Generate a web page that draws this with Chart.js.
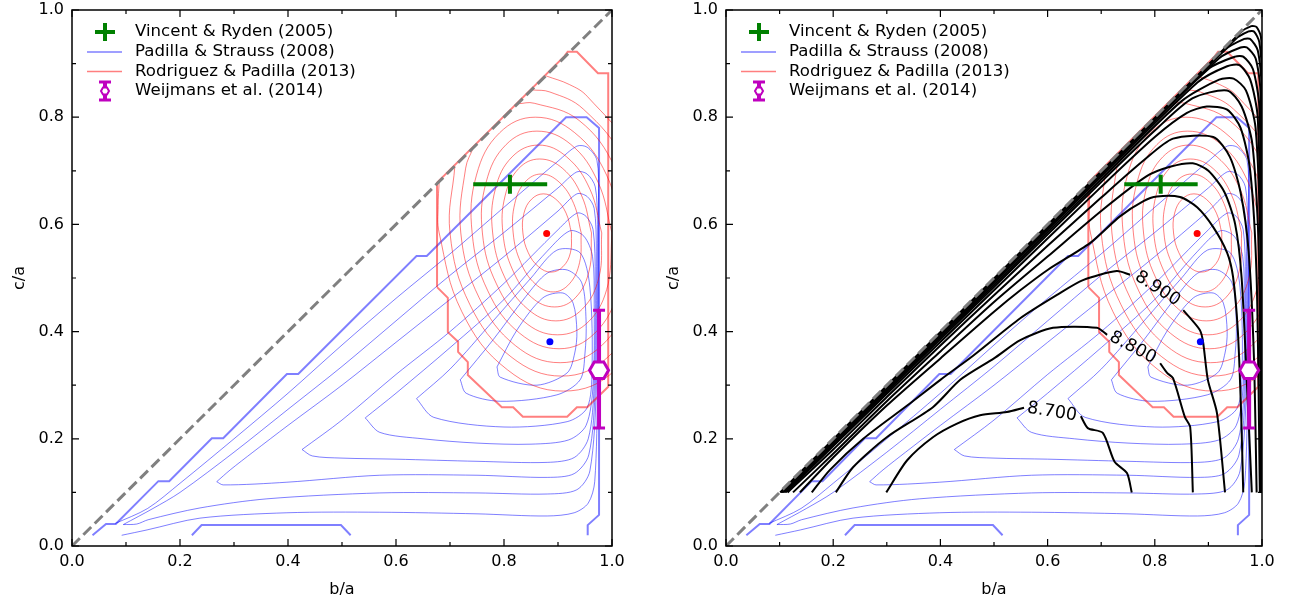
<!DOCTYPE html>
<html>
<head>
<meta charset="utf-8">
<script src="https://cdn.jsdelivr.net/npm/chart.js@4.4.1/dist/chart.umd.min.js"></script>
<style>
  body{margin:0;background:#fff;width:1291px;height:605px;position:relative;overflow:hidden}
  canvas{position:absolute;top:0}
  #c1{left:0} #c2{left:654px}
</style>
</head>
<body>
<canvas id="c1" width="645" height="605"></canvas>
<canvas id="c2" width="637" height="605"></canvas>
<script>
// ---- data (b/a, c/a) ----
const diagonal = [[0,0],[1,1]];

const vrCenter = [0.811, 0.675];     // Vincent & Ryden (2005)
const vrXRange = [0.743, 0.880];
const wCenter  = [0.976, 0.328];     // Weijmans et al. (2014)
const wYRange  = [0.220, 0.440];
const rpPeak = [0.879, 0.583];
const psPeak = [0.885, 0.381];

// Padilla & Strauss (2008)
const psOuter = [[0.038,0.02],[0.063,0.041],[0.081,0.041],[0.16,0.121],[0.18,0.121],[0.259,0.201],[0.28,0.201],
  [0.398,0.321],[0.419,0.321],[0.638,0.541],[0.657,0.541],[0.915,0.80],[0.953,0.80],[0.976,0.78],[0.976,0.058],
  [0.955,0.039],[0.955,0.02]];
const psOuterBottom = [[0.222,0.02],[0.24,0.039],[0.498,0.039],[0.516,0.02]];
const psContours = [
  [[0.787,0.334],[0.824,0.403],[0.872,0.463],[0.909,0.472],[0.928,0.453],[0.935,0.40],[0.931,0.36],[0.917,0.323],[0.861,0.30],[0.793,0.315],[0.787,0.334]],
  [[0.719,0.31],[0.78,0.385],[0.84,0.465],[0.88,0.509],[0.917,0.515],[0.944,0.491],[0.952,0.42],[0.95,0.36],[0.941,0.31],[0.898,0.282],[0.793,0.27],[0.73,0.285],[0.719,0.31]],
  [[0.638,0.275],[0.70,0.33],[0.78,0.42],[0.85,0.50],[0.898,0.552],[0.941,0.547],[0.959,0.483],[0.963,0.328],[0.954,0.258],[0.917,0.232],[0.80,0.222],[0.67,0.24],[0.638,0.275]],
  [[0.543,0.239],[0.57,0.212],[0.65,0.20],[0.75,0.192],[0.85,0.19],[0.92,0.198],[0.952,0.225],[0.965,0.30],[0.967,0.45],[0.964,0.54],[0.948,0.578],[0.922,0.588],[0.88,0.55],[0.80,0.46],[0.70,0.37],[0.60,0.285],[0.543,0.239]],
  [[0.426,0.18],[0.445,0.168],[0.50,0.164],[0.60,0.162],[0.75,0.158],[0.88,0.156],[0.93,0.165],[0.956,0.20],[0.967,0.30],[0.969,0.50],[0.965,0.59],[0.952,0.615],[0.935,0.621],[0.90,0.59],[0.80,0.49],[0.70,0.40],[0.60,0.32],[0.50,0.235],[0.426,0.18]],
  [[0.268,0.12],[0.28,0.114],[0.398,0.119],[0.57,0.132],[0.75,0.132],[0.88,0.128],[0.93,0.135],[0.957,0.17],[0.969,0.30],[0.971,0.55],[0.967,0.63],[0.954,0.652],[0.935,0.657],[0.90,0.625],[0.80,0.54],[0.70,0.46],[0.60,0.38],[0.50,0.30],[0.40,0.225],[0.335,0.175],[0.293,0.142],[0.268,0.12]],
  [[0.095,0.04],[0.12,0.041],[0.141,0.049],[0.237,0.071],[0.361,0.088],[0.57,0.099],[0.75,0.099],[0.88,0.097],[0.935,0.105],[0.959,0.14],[0.971,0.30],[0.973,0.60],[0.969,0.67],[0.954,0.694],[0.935,0.698],[0.90,0.668],[0.80,0.585],[0.70,0.505],[0.60,0.42],[0.50,0.335],[0.40,0.255],[0.30,0.175],[0.20,0.10],[0.15,0.07],[0.095,0.04]],
  [[0.092,0.02],[0.139,0.03],[0.237,0.052],[0.398,0.062],[0.57,0.063],[0.75,0.06],[0.88,0.056],[0.93,0.062],[0.956,0.08],[0.968,0.12],[0.973,0.30],[0.975,0.65],[0.972,0.72],[0.954,0.744],[0.935,0.746],[0.90,0.718],[0.80,0.632],[0.70,0.545],[0.60,0.462],[0.50,0.375],[0.40,0.285],[0.30,0.20],[0.20,0.117],[0.14,0.07],[0.08,0.042]]
];

// Rodriguez & Padilla (2013)
const rpOuter = [[0.676,0.483],[0.676,0.678],[0.912,0.914],[0.918,0.922],[0.935,0.922],[0.974,0.882],[0.993,0.882],[0.993,0.297],
  [0.954,0.259],[0.935,0.259],[0.917,0.241],[0.835,0.241],[0.817,0.259],[0.796,0.259],[0.733,0.319],[0.733,0.343],
  [0.715,0.362],[0.715,0.381],[0.696,0.399],[0.696,0.463],[0.676,0.483]];
const rpContours = [
  [[0.925,0.584],[0.915,0.621],[0.896,0.647],[0.873,0.657],[0.851,0.647],[0.837,0.621],[0.835,0.584],[0.845,0.547],[0.864,0.521],[0.887,0.511],[0.909,0.521],[0.923,0.547],[0.925,0.584]],
  [[0.943,0.584],[0.929,0.639],[0.902,0.679],[0.869,0.694],[0.839,0.679],[0.820,0.639],[0.817,0.584],[0.831,0.529],[0.858,0.489],[0.891,0.474],[0.921,0.489],[0.940,0.529],[0.943,0.584]],
  [[0.962,0.584],[0.944,0.653],[0.909,0.704],[0.866,0.722],[0.827,0.704],[0.802,0.653],[0.798,0.584],[0.816,0.515],[0.851,0.464],[0.894,0.446],[0.933,0.464],[0.958,0.515],[0.962,0.584]],
  [[0.981,0.584],[0.959,0.666],[0.916,0.726],[0.864,0.748],[0.815,0.726],[0.784,0.666],[0.779,0.584],[0.801,0.502],[0.844,0.442],[0.896,0.420],[0.945,0.442],[0.976,0.502],[0.981,0.584]],
  [[1.000,0.584],[0.974,0.679],[0.924,0.749],[0.861,0.774],[0.804,0.749],[0.767,0.679],[0.760,0.584],[0.786,0.489],[0.837,0.419],[0.899,0.394],[0.957,0.419],[0.993,0.489],[1.000,0.584]],
  [[1.019,0.584],[0.990,0.692],[0.931,0.771],[0.858,0.800],[0.792,0.771],[0.749,0.692],[0.741,0.584],[0.770,0.476],[0.829,0.397],[0.902,0.368],[0.968,0.397],[1.011,0.476],[1.019,0.584]],
  [[0.743,0.743],[0.729,0.705],[0.72,0.584],[0.754,0.463],[0.821,0.374],[0.904,0.342],[0.981,0.374],[1.031,0.463],[1.04,0.584],[1.006,0.705],[0.939,0.794],[0.856,0.826],[0.825,0.825]],
  [[0.709,0.709],[0.70,0.584],[0.737,0.45],[0.813,0.353],[0.907,0.317],[0.993,0.353],[1.049,0.45],[1.06,0.584],[1.023,0.718],[0.947,0.815],[0.885,0.847],[0.852,0.851]],
  [[0.68,0.68],[0.678,0.635],[0.68,0.584],[0.722,0.437],[0.806,0.329],[0.91,0.289],[1.006,0.329],[1.052,0.437],[1.08,0.584],[1.038,0.732],[0.954,0.839],[0.921,0.861],[0.878,0.877]]
];

// black contours of the right panel (null = gap for the inline label)
const massContours = [
  [[0.299,0.10],[0.338,0.16],[0.386,0.203],[0.43,0.228],[0.474,0.244],[0.524,0.25],[0.556,0.258],null,[0.662,0.242],[0.675,0.22],[0.703,0.211],[0.725,0.157],[0.748,0.136],[0.757,0.10]],
  [[0.205,0.10],[0.237,0.147],[0.30,0.203],[0.386,0.259],[0.437,0.31],[0.50,0.35],[0.549,0.384],[0.61,0.407],[0.692,0.407],[0.711,0.394],null,[0.81,0.341],[0.823,0.323],[0.834,0.313],[0.856,0.241],[0.866,0.222],[0.871,0.10]],
  [[0.16,0.10],[0.194,0.142],[0.256,0.20],[0.338,0.262],[0.40,0.31],[0.461,0.355],[0.549,0.425],[0.62,0.47],[0.666,0.496],[0.729,0.513],[0.754,0.506],null,[0.853,0.44],[0.884,0.403],[0.89,0.381],[0.899,0.31],[0.916,0.248],[0.931,0.10]],
  [[0.138,0.10],[0.2,0.165],[0.3,0.262],[0.4,0.35],[0.5,0.437],[0.549,0.477],[0.6,0.515],[0.679,0.565],[0.735,0.615],[0.778,0.643],[0.804,0.652],[0.847,0.651],[0.879,0.632],[0.909,0.595],[0.935,0.547],[0.946,0.502],[0.955,0.40],[0.961,0.25],[0.965,0.10]],
  [[0.125,0.10],[0.2,0.172],[0.3,0.27],[0.4,0.363],[0.5,0.455],[0.6,0.54],[0.7,0.625],[0.785,0.69],[0.83,0.708],[0.871,0.714],[0.9,0.70],[0.93,0.66],[0.95,0.60],[0.962,0.50],[0.972,0.30],[0.981,0.10]],
  [[0.115,0.10],[0.2,0.18],[0.3,0.278],[0.4,0.374],[0.5,0.468],[0.6,0.56],[0.7,0.65],[0.78,0.72],[0.834,0.76],[0.909,0.763],[0.94,0.726],[0.96,0.66],[0.975,0.55],[0.985,0.35],[0.99,0.10]],
  [[0.112,0.10],[0.3,0.284],[0.5,0.477],[0.7,0.67],[0.8,0.763],[0.86,0.808],[0.897,0.82],[0.935,0.814],[0.96,0.78],[0.978,0.70],[0.99,0.50],[0.996,0.10]],
  [[0.110,0.10],[0.3,0.288],[0.5,0.483],[0.7,0.679],[0.8,0.775],[0.87,0.835],[0.935,0.85],[0.962,0.82],[0.982,0.75],[0.994,0.55],[0.998,0.10]],
  [[0.108,0.10],[0.3,0.291],[0.5,0.487],[0.7,0.684],[0.85,0.83],[0.92,0.87],[0.947,0.872],[0.97,0.85],[0.988,0.78],[0.997,0.55],[0.999,0.10]],
  [[0.106,0.10],[0.3,0.293],[0.5,0.491],[0.7,0.689],[0.88,0.865],[0.935,0.895],[0.958,0.897],[0.978,0.87],[0.992,0.80],[0.999,0.5],[1.0,0.10]],
  [[0.105,0.10],[0.3,0.295],[0.5,0.494],[0.7,0.692],[0.9,0.89],[0.95,0.913],[0.965,0.913],[0.983,0.89],[0.995,0.82],[1.0,0.5],[1.0,0.10]],
  [[0.104,0.10],[0.5,0.496],[0.7,0.695],[0.92,0.91],[0.96,0.93],[0.972,0.93],[0.988,0.91],[0.997,0.85],[1.0,0.5],[1.0,0.10]],
  [[0.103,0.10],[0.5,0.497],[0.93,0.925],[0.967,0.946],[0.978,0.946],[0.992,0.925],[0.999,0.86],[1.0,0.10]],
  [[0.102,0.10],[0.5,0.498],[0.95,0.945],[0.975,0.96],[0.985,0.96],[0.995,0.94],[1.0,0.87],[1.0,0.10]],
  [[0.101,0.10],[0.5,0.499],[0.96,0.958],[0.98,0.97],[0.99,0.968],[0.998,0.95],[1.0,0.9],[1.0,0.10]]
];
const massLabelText = ['8.700','8.800','8.900'];
const massLabelAt   = [[0.608,0.25],[0.759,0.370],[0.805,0.480]];
const massLabelRot  = [9, 28, 33];

const legendNames = ['Vincent & Ryden (2005)','Padilla & Strauss (2008)','Rodriguez & Padilla (2013)','Weijmans et al. (2014)'];
const ticksMajor = [0,0.2,0.4,0.6,0.8,1.0];
const ticksMinor = [0.1,0.3,0.5,0.7,0.9];

// ---- styling ----
const BLUE = 'rgba(0,0,255,0.5)', RED = 'rgba(255,0,0,0.5)';
const GREEN = '#008000', MAG = '#bf00bf';
const FONT = '"DejaVu Sans", sans-serif';
Chart.defaults.font.family = FONT;
Chart.defaults.color = '#000';

const xy = a => a.map(p => p ? {x:p[0], y:p[1]} : {x:NaN, y:null});
function curve(data, color, width, order, extra){
  return Object.assign({data: xy(data), showLine:true, borderColor:color, borderWidth:width,
    pointRadius:0, pointHoverRadius:0, fill:false, tension:0, order}, extra||{});
}
function dot(p, color){
  return {data: xy([p]), pointRadius:3.5, pointBackgroundColor:color, pointBorderWidth:0, showLine:false, order:20};
}

function datasets(withMass){
  const ds = [];
  ds.push(curve(psOuter, BLUE, 2, 60));
  ds.push(curve(psOuterBottom, BLUE, 2, 60));
  psContours.forEach(c => ds.push(curve(c, BLUE, 1, 60, {tension:0.3})));
  ds.push(curve(rpOuter, RED, 2, 50));
  rpContours.forEach(c => ds.push(curve(c, RED, 1, 50, {tension:0.4})));
  if(withMass) massContours.forEach(c => ds.push(curve(c, '#000', 2, 40, {tension:0.25})));
  ds.push(dot(rpPeak, '#ff0000'));
  ds.push(dot(psPeak, '#0000ff'));
  ds.push(curve(diagonal, '#808080', 3, 10, {borderDash:[11,5]}));
  return ds;
}

const overlay = {
  id:'overlay',
  afterDatasetsDraw(chart){
    const {ctx, scales:{x, y}} = chart;
    ctx.save();
    ctx.lineCap = 'butt';
    if(chart.options.plugins.overlay.labels){
      ctx.fillStyle = '#000';
      ctx.font = '17.5px ' + FONT;
      ctx.textAlign = 'center'; ctx.textBaseline = 'middle';
      massLabelText.forEach((t,i)=>{
        ctx.save();
        ctx.translate(x.getPixelForValue(massLabelAt[i][0]), y.getPixelForValue(massLabelAt[i][1]));
        ctx.rotate(massLabelRot[i]*Math.PI/180);
        ctx.fillText(t, 0, 0);
        ctx.restore();
      });
    }
    // Vincent & Ryden: x error bar + plus marker
    const gx = x.getPixelForValue(vrCenter[0]), gy = y.getPixelForValue(vrCenter[1]);
    ctx.strokeStyle = GREEN; ctx.lineWidth = 4;
    ctx.beginPath();
    ctx.moveTo(x.getPixelForValue(vrXRange[0]), gy); ctx.lineTo(x.getPixelForValue(vrXRange[1]), gy);
    ctx.moveTo(gx, gy-9.5); ctx.lineTo(gx, gy+9.5);
    ctx.stroke();
    // Weijmans: y error bar + hexagon
    const mx = x.getPixelForValue(wCenter[0]), my = y.getPixelForValue(wCenter[1]);
    const y0 = y.getPixelForValue(wYRange[0]), y1 = y.getPixelForValue(wYRange[1]);
    ctx.strokeStyle = MAG; ctx.lineWidth = 4;
    ctx.beginPath(); ctx.moveTo(mx, y0); ctx.lineTo(mx, y1); ctx.stroke();
    ctx.lineWidth = 3;
    ctx.beginPath(); ctx.moveTo(mx-6, y0); ctx.lineTo(mx+6, y0); ctx.moveTo(mx-6, y1); ctx.lineTo(mx+6, y1); ctx.stroke();
    hexagon(ctx, mx, my, 9.5);
    ctx.restore();
  },
  afterDraw(chart){
    const {ctx, chartArea:a, scales:{x, y}} = chart;
    ctx.save();
    // frame
    ctx.strokeStyle = '#000'; ctx.lineWidth = 1.5;
    ctx.strokeRect(a.left, a.top, a.right-a.left, a.bottom-a.top);
    // inward ticks on all four sides
    ctx.lineWidth = 1.2;
    ctx.beginPath();
    const tick = (v, len) => {
      const px = x.getPixelForValue(v), py = y.getPixelForValue(v);
      ctx.moveTo(px, a.bottom); ctx.lineTo(px, a.bottom-len);
      ctx.moveTo(px, a.top); ctx.lineTo(px, a.top+len);
      ctx.moveTo(a.left, py); ctx.lineTo(a.left+len, py);
      ctx.moveTo(a.right, py); ctx.lineTo(a.right-len, py);
    };
    ticksMajor.forEach(v => tick(v, 7));
    ticksMinor.forEach(v => tick(v, 4));
    ctx.stroke();
    // axis titles
    ctx.fillStyle = '#000';
    ctx.font = '16px ' + FONT;
    ctx.textAlign = 'center'; ctx.textBaseline = 'middle';
    ctx.fillText('b/a', (a.left+a.right)/2, 590);
    ctx.save(); ctx.translate(20, (a.top+a.bottom)/2); ctx.rotate(-Math.PI/2); ctx.fillText('c/a', 0, 0); ctx.restore();
    // legend
    const sx = a.left + 33, tx = a.left + 63;
    const rows = [a.top+22, a.top+42, a.top+61.5, a.top+81];
    ctx.font = '16.6px ' + FONT; ctx.textAlign = 'left';
    legendNames.forEach((n,i) => ctx.fillText(n, tx, rows[i]));
    ctx.strokeStyle = GREEN; ctx.lineWidth = 4;
    ctx.beginPath(); ctx.moveTo(sx-10, rows[0]); ctx.lineTo(sx+10, rows[0]); ctx.moveTo(sx, rows[0]-9); ctx.lineTo(sx, rows[0]+9); ctx.stroke();
    ctx.lineWidth = 1.5;
    ctx.strokeStyle = BLUE; ctx.beginPath(); ctx.moveTo(sx-18, rows[1]); ctx.lineTo(sx+17, rows[1]); ctx.stroke();
    ctx.strokeStyle = RED; ctx.beginPath(); ctx.moveTo(sx-18, rows[2]); ctx.lineTo(sx+17, rows[2]); ctx.stroke();
    ctx.strokeStyle = MAG; ctx.lineWidth = 4;
    ctx.beginPath(); ctx.moveTo(sx, rows[3]-9); ctx.lineTo(sx, rows[3]+9); ctx.stroke();
    ctx.lineWidth = 3;
    ctx.beginPath(); ctx.moveTo(sx-6, rows[3]-9); ctx.lineTo(sx+6, rows[3]-9); ctx.moveTo(sx-6, rows[3]+9); ctx.lineTo(sx+6, rows[3]+9); ctx.stroke();
    hexagon(ctx, sx, rows[3], 4, 2);
    ctx.restore();
  }
};

function hexagon(ctx, cx, cy, r, lw){
  ctx.beginPath();
  for(let k=0;k<6;k++){
    const t = k*Math.PI/3;
    const px = cx + r*Math.cos(t), py = cy + r*Math.sin(t);
    k ? ctx.lineTo(px, py) : ctx.moveTo(px, py);
  }
  ctx.closePath();
  ctx.fillStyle = '#fff'; ctx.fill();
  ctx.strokeStyle = MAG; ctx.lineWidth = lw || 3; ctx.stroke();
}

function makeChart(id, withMass, rightPad){
  return new Chart(document.getElementById(id), {
    type:'scatter',
    data:{datasets: datasets(withMass)},
    options:{
      responsive:false, animation:false, events:[],
      layout:{padding:{left:0, top:10, right:rightPad, bottom:0}},
      plugins:{legend:{display:false}, tooltip:{enabled:false}, overlay:{labels:withMass}},
      scales:{
        x:{type:'linear', min:0, max:1,
           grid:{display:false, drawTicks:false}, border:{display:false},
           ticks:{stepSize:0.2, padding:6, font:{size:16}, color:'#000', maxRotation:0, callback:v=>v.toFixed(1)},
           afterFit:s=>{s.height = 59; s.paddingLeft = 0; s.paddingRight = 0;}},
        y:{type:'linear', min:0, max:1,
           grid:{display:false, drawTicks:false}, border:{display:false},
           ticks:{stepSize:0.2, padding:8, font:{size:16}, color:'#000', callback:v=>v.toFixed(1)},
           afterFit:s=>{s.width = 72; s.paddingTop = 0; s.paddingBottom = 0;}}
      }
    },
    plugins:[overlay]
  });
}

makeChart('c1', false, 33);
makeChart('c2', true, 29);
</script>
</body>
</html>
